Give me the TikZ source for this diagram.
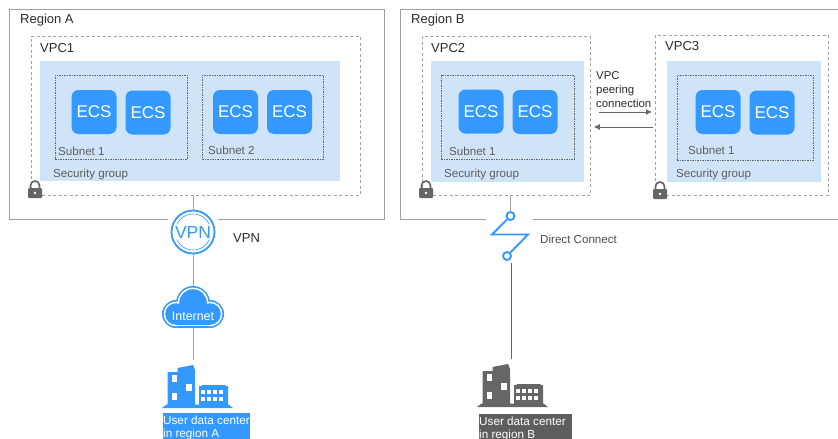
\documentclass[tikz,border=0pt]{standalone}
\usepackage{fontspec}
\setmainfont{Liberation Sans}
\usetikzlibrary{arrows.meta}
\definecolor{ecsblue}{HTML}{3399FF}
\definecolor{sgblue}{HTML}{D0E4F8}
\definecolor{linegray}{HTML}{A0A0A0}
\definecolor{darkgray}{HTML}{666666}
\definecolor{labelgray}{HTML}{5E5E5E}
\definecolor{textgray}{HTML}{2B2B2B}
\tikzset{
  pics/building/.style={code={
    \fill[#1] (-35.5,21) -- (-31,17.5) -- (-30,17.5) -- (-30,-15) -- (-20,-15) -- (-20,-19) -- (-4.5,-22) -- (-2.5,-17) -- (-2.5,17.5) -- (1.5,17.5) -- (1.5,-1) -- (4,-1) -- (4,-2) -- (28,-2) -- (28,-1) -- (30.5,-1) -- (30.5,17.5) -- (31,17.5) -- (35.5,21) -- cycle;
    \foreach \wx/\wy in {-23/-8.5,-23/9.5,-8.5/0.5}
      \fill[white] (\wx-2.7,\wy-3.5) rectangle (\wx+2.7,\wy+3.5);
    \foreach \wx in {5.5,11.5,17.5,23.5}
      \foreach \wy in {5,12}
        \fill[white] (\wx-2,\wy-2) rectangle (\wx+2,\wy+2);
  }},
  pics/padlock/.style={code={
    \draw[darkgray,line width=1.7] (-4.5,1) -- (-4.5,-2.5) arc (180:360:4.5) -- (4.5,1);
    \fill[darkgray,rounded corners=1] (-7,0) rectangle (7,10);
    \fill[white] (0,5) circle (1.4);
  }}
}
\begin{document}
\begin{tikzpicture}[x=1pt,y=-1pt,font=\fontsize{11.5}{13}\selectfont]
  \tikzstyle{regionbox}=[draw=linegray,line width=.9,anchor=north west,inner sep=0]
  \tikzstyle{vpcbox}=[draw=linegray,dash pattern=on 3pt off 2.5pt,line width=.8,anchor=north west,inner sep=0]
  \tikzstyle{sgbox}=[fill=sgblue,anchor=north west,inner sep=0]
  \tikzstyle{subnetbox}=[draw=darkgray,dash pattern=on 1.5pt off 1pt,line width=.6,anchor=north west,inner sep=0]
  \tikzstyle{ecs}=[fill=ecsblue,text=white,rounded corners=7,minimum width=45,minimum height=44,inner sep=0,font=\fontsize{17}{19}\selectfont]
  \tikzstyle{small}=[text=labelgray,anchor=west,inner sep=0,font=\fontsize{11.6}{13}\selectfont]
  \tikzstyle{title}=[text=textgray,anchor=west,inner sep=0,font=\fontsize{13}{15}\selectfont]
  \tikzstyle{link}=[linegray,line width=1]
  \tikzstyle{peer}=[darkgray,line width=.8,-{Latex[length=6,width=6]}]
  \tikzstyle{dclabel}=[anchor=north west,inner sep=1,text=white,align=left,font=\fontsize{11.7}{13}\selectfont]

  \useasboundingbox (0,0) rectangle (838,439);

  % regions
  \node[regionbox,minimum width=375,minimum height=210] (regionA) at (9,9) {};
  \node[regionbox,minimum width=445,minimum height=210] (regionB) at (400,9) {};
  \node[title] at (20,20) {Region A};
  \node[title] at (411,20) {Region B};

  % VPCs
  \node[vpcbox,minimum width=329,minimum height=159] (vpc1) at (31,36) {};
  \node[vpcbox,minimum width=168,minimum height=159] (vpc2) at (422,36) {};
  \node[vpcbox,minimum width=173,minimum height=160] (vpc3) at (655,35) {};
  \node[title] at (40,48) {VPC1};
  \node[title] at (431,48) {VPC2};
  \node[title] at (665,46) {VPC3};

  % security groups
  \node[sgbox,minimum width=300,minimum height=120] (sg1) at (40,61) {};
  \node[sgbox,minimum width=153,minimum height=121] (sg2) at (431,61) {};
  \node[sgbox,minimum width=154,minimum height=121] (sg3) at (667,61) {};
  \node[small] at (53,174.5) {Security group};
  \node[small] at (444,174.5) {Security group};
  \node[small] at (676,174.5) {Security group};

  % subnets
  \node[subnetbox,minimum width=132,minimum height=84] (subnet1) at (55,75) {};
  \node[subnetbox,minimum width=121,minimum height=84] (subnet2) at (202,75) {};
  \node[subnetbox,minimum width=133,minimum height=84] (subnet3) at (441,75) {};
  \node[subnetbox,minimum width=136,minimum height=85] (subnet4) at (677,75) {};
  \node[small] at (58,151) {Subnet 1};
  \node[small] at (208,150) {Subnet 2};
  \node[small] at (449,151) {Subnet 1};
  \node[small] at (688,150) {Subnet 1};

  % instances
  \node[ecs] (ecs1) at (94,112) {ECS};
  \node[ecs] (ecs2) at (148,112.5) {ECS};
  \node[ecs] (ecs3) at (235.5,112) {ECS};
  \node[ecs] (ecs4) at (289.5,112) {ECS};
  \node[ecs] (ecs5) at (481,111.5) {ECS};
  \node[ecs] (ecs6) at (535,112) {ECS};
  \node[ecs] (ecs7) at (718,112) {ECS};
  \node[ecs] (ecs8) at (772,112.5) {ECS};

  % locks
  \pic at (35,188) {padlock};
  \pic at (426,188) {padlock};
  \pic at (660,189) {padlock};

  % peering
  \node[small,align=left,anchor=north west,font=\fontsize{11.4}{14}\selectfont,text=textgray] at (596,71.5) {VPC\\peering\\connection};
  \coordinate (peerA) at (vpc2.east |- 0,112);
  \coordinate (peerB) at (vpc3.west |- 0,112);
  \coordinate (peerC) at (vpc3.west |- 0,127);
  \coordinate (peerD) at (vpc2.east |- 0,127);
  \draw[peer] ([xshift=8]peerA) -- ([xshift=-3]peerB);
  \draw[peer] ([xshift=-2]peerC) -- ([xshift=3]peerD);

  % VPN side
  \node[circle,draw=white,line width=5,minimum size=51,inner sep=0,fill=white] (vpngap) at (193,232) {};
  \node[circle,draw=ecsblue,line width=1.8,minimum size=43,inner sep=0,fill=white] (vpn) at (193,232) {};
  \draw[ecsblue,line width=.6] (193,232) ++(155:18) arc (155:25:18);
  \draw[ecsblue,line width=.6] (193,232) ++(205:18) arc (205:335:18);
  \node[text=ecsblue,inner sep=0,font=\fontsize{17.5}{19}\selectfont] at (193,232) {VPN};
  \node[title] at (233,238) {VPN};

  \node[inner sep=0,minimum width=62,minimum height=42] (cloud) at (193,307) {};
  \foreach \shrink/\col in {0/ecsblue,1.6/white,3.2/ecsblue} {
    \fill[\col] (176,314) circle (14-\shrink);
    \fill[\col] (210,314) circle (14-\shrink);
    \fill[\col] (193,303) circle (17-\shrink);
    \fill[\col] (176,300+\shrink+8) rectangle (210,328-\shrink);
  }
  \node[text=white,inner sep=0,font=\fontsize{12.4}{14}\selectfont] (internet) at (193,316) {Internet};

  \pic at (197.5,387) {building=ecsblue};
  \coordinate (dcA) at (193,360);
  \node[dclabel,fill=ecsblue,minimum width=87,minimum height=26] (labelA) at (163,413) {};
  \node[dclabel] at (162,414.5) {User data center\\in region A};

  \draw[link] (vpc1.south -| vpn) -- (vpn);
  \draw[link] (vpn) -- (cloud);
  \draw[link] (cloud.south) -- (dcA);

  % direct connect side
  \node[fill=white,inner sep=0,minimum width=47,minimum height=8] (dcgap) at (509.5,219) {};
  \node[circle,draw=ecsblue,line width=1.9,minimum size=8,inner sep=0,fill=white] (dctop) at (510.5,216) {};
  \node[circle,draw=ecsblue,line width=1.9,minimum size=8,inner sep=0,fill=white] (dcbot) at (507,256) {};
  \draw[ecsblue,line width=1.9,line join=miter] (dctop) -- (492,234.5) -- (528,234.5) -- (dcbot);
  \node[small,text=textgray!85] at (540,239) {Direct Connect};

  \pic at (512.5,386) {building=darkgray};
  \coordinate (dcB) at (511,359);
  \node[dclabel,fill=labelgray,minimum width=93,minimum height=25] (labelB) at (479,414) {};
  \node[dclabel] at (478,415.5) {User data center\\in region B};

  \draw[link] (vpc2.south -| dctop) -- (dctop);
  \draw[darkgray,line width=.8] ([yshift=-2]dcbot.south -| dcB) -- (dcB);
\end{tikzpicture}
\end{document}
